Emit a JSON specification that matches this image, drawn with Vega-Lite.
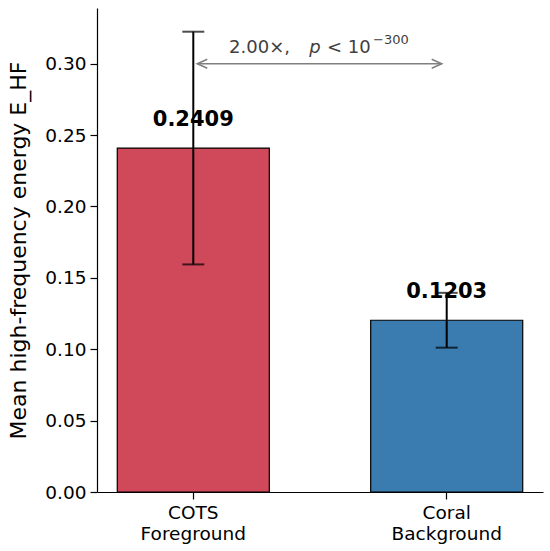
{
  "$schema": "https://vega.github.io/schema/vega-lite/v6.json",
  "description": "Mean high-frequency energy, COTS foreground vs coral background",
  "width": 446,
  "height": 484,
  "autosize": "none",
  "padding": {"left": 97, "top": 8, "right": 7, "bottom": 59},
  "config": {
    "font": "DejaVu Sans",
    "view": {"stroke": null},
    "axis": {
      "grid": false,
      "domainColor": "black",
      "tickColor": "black",
      "labelColor": "black",
      "titleColor": "black",
      "labelFontSize": 18.5,
      "tickSize": 7,
      "tickWidth": 1.2,
      "domainWidth": 1.2,
      "labelPadding": 4
    }
  },
  "layer": [
    {
      "data": {
        "values": [
          {"group": "COTS Foreground", "mean": 0.2409, "err": 0.0815},
          {"group": "Coral Background", "mean": 0.1203, "err": 0.0192}
        ]
      },
      "encoding": {
        "x": {
          "field": "group",
          "type": "nominal",
          "sort": null,
          "scale": {"paddingInner": 0.4, "paddingOuter": 0.08},
          "axis": {
            "title": null,
            "labelAngle": 0,
            "labelPadding": 4,
            "labelLineHeight": 21,
            "labelExpr": "split(datum.label, ' ')"
          }
        },
        "y": {
          "field": "mean",
          "type": "quantitative",
          "scale": {"domain": [0, 0.339], "nice": false, "zero": true},
          "axis": {
            "title": "Mean high-frequency energy E_HF",
            "titleFontSize": 22,
            "titleFontWeight": "normal",
            "titlePadding": 14,
            "values": [0, 0.05, 0.1, 0.15, 0.2, 0.25, 0.3],
            "format": ".2f"
          }
        }
      },
      "layer": [
        {
          "mark": {"type": "bar", "stroke": "black", "strokeWidth": 1.2},
          "encoding": {
            "color": {
              "field": "group",
              "type": "nominal",
              "scale": {"range": ["#d0495b", "#3a7bb0"]},
              "legend": null
            }
          }
        },
        {
          "mark": {
            "type": "errorbar",
            "ticks": {"size": 22, "thickness": 2, "color": "black"},
            "rule": {"strokeWidth": 2, "color": "black"}
          },
          "encoding": {
            "yError": {"field": "err"}
          }
        },
        {
          "mark": {
            "type": "text",
            "fontSize": 21,
            "fontWeight": "bold",
            "color": "black",
            "baseline": "middle",
            "dy": -28.5
          },
          "encoding": {
            "text": {"field": "mean", "type": "quantitative", "format": ".4f"}
          }
        }
      ]
    },
    {
      "data": {"values": [{"ratio": "2.00×,", "p": "p", "rel": "< 10", "exp": "−300"}]},
      "layer": [
        {
          "mark": {"type": "rule", "color": "#808080", "strokeWidth": 1.6},
          "encoding": {
            "x": {"datum": 0.017, "type": "quantitative", "scale": {"domain": [-0.3794, 1.3834], "nice": false, "zero": false}, "axis": null},
            "x2": {"datum": 0.983},
            "y": {"datum": 0.3, "type": "quantitative", "scale": {"domain": [0, 0.339], "nice": false}}
          }
        },
        {
          "mark": {"type": "point", "shape": "M 1 -0.45 L 0 0 L 1 0.45", "filled": false, "size": 400, "stroke": "#808080", "strokeWidth": 1.6, "opacity": 1},
          "encoding": {
            "x": {"datum": 0.017, "type": "quantitative"},
            "y": {"datum": 0.3, "type": "quantitative"}
          }
        },
        {
          "mark": {"type": "point", "shape": "M -1 -0.45 L 0 0 L -1 0.45", "filled": false, "size": 400, "stroke": "#808080", "strokeWidth": 1.6, "opacity": 1},
          "encoding": {
            "x": {"datum": 0.983, "type": "quantitative"},
            "y": {"datum": 0.3, "type": "quantitative"}
          }
        },
        {
          "mark": {"type": "text", "fontSize": 18, "color": "#404040", "align": "right", "baseline": "alphabetic"},
          "encoding": {
            "text": {"field": "ratio"},
            "x": {"datum": 0.3834, "type": "quantitative"},
            "y": {"datum": 0.3077, "type": "quantitative"}
          }
        },
        {
          "mark": {"type": "text", "fontSize": 18, "fontStyle": "italic", "color": "#404040", "align": "center", "baseline": "alphabetic"},
          "encoding": {
            "text": {"field": "p"},
            "x": {"datum": 0.4822, "type": "quantitative"},
            "y": {"datum": 0.3077, "type": "quantitative"}
          }
        },
        {
          "mark": {"type": "text", "fontSize": 18, "color": "#404040", "align": "left", "baseline": "alphabetic"},
          "encoding": {
            "text": {"field": "rel"},
            "x": {"datum": 0.5297, "type": "quantitative"},
            "y": {"datum": 0.3077, "type": "quantitative"}
          }
        },
        {
          "mark": {"type": "text", "fontSize": 13, "color": "#404040", "align": "left", "baseline": "alphabetic"},
          "encoding": {
            "text": {"field": "exp"},
            "x": {"datum": 0.7115, "type": "quantitative"},
            "y": {"datum": 0.3136, "type": "quantitative"}
          }
        }
      ]
    }
  ],
  "resolve": {"scale": {"x": "independent"}}
}
